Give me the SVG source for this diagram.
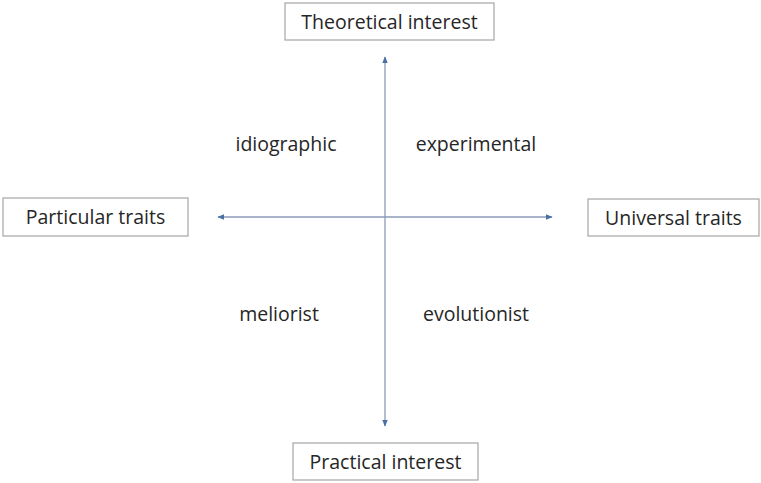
<svg xmlns="http://www.w3.org/2000/svg" width="761" height="483" viewBox="0 0 761 483">
<style>
.box{fill:#fff;stroke:#a6a6a6;stroke-width:1.2}
.t{font-family:"Open Sans","Liberation Sans",sans-serif;font-size:19.5px;fill:#262626;text-anchor:middle;dominant-baseline:central}
.ax{stroke:#8a9bb8;stroke-width:1.3;fill:none}
</style>
<defs>
<marker id="ah" viewBox="0 0 10 10" refX="9" refY="5" markerWidth="7" markerHeight="7" orient="auto-start-reverse" markerUnits="userSpaceOnUse">
<path d="M0,1 L10,5 L0,9 z" fill="#4a6fa5"/>
</marker>
</defs>
<g id="connectors">
<line class="ax" x1="385" y1="57" x2="385" y2="426" marker-start="url(#ah)" marker-end="url(#ah)"/>
<line class="ax" x1="218" y1="217" x2="552" y2="217" marker-start="url(#ah)" marker-end="url(#ah)"/>
</g>
<g id="theoretical"><rect class="box" x="285" y="3" width="209" height="37"/><text class="t" x="389.5" y="21">Theoretical interest</text></g>
<g id="particular"><rect class="box" x="3" y="198" width="185" height="38"/><text class="t" x="95.5" y="216.5">Particular traits</text></g>
<g id="universal"><rect class="box" x="588" y="199" width="171" height="37"/><text class="t" x="673.5" y="217">Universal traits</text></g>
<g id="practical"><rect class="box" x="293" y="443" width="185" height="37"/><text class="t" x="385.5" y="461">Practical interest</text></g>
<g id="labels">
<text class="t" x="286" y="143">idiographic</text>
<text class="t" x="476" y="143">experimental</text>
<text class="t" x="279" y="313">meliorist</text>
<text class="t" x="476" y="313">evolutionist</text>
</g>
</svg>
